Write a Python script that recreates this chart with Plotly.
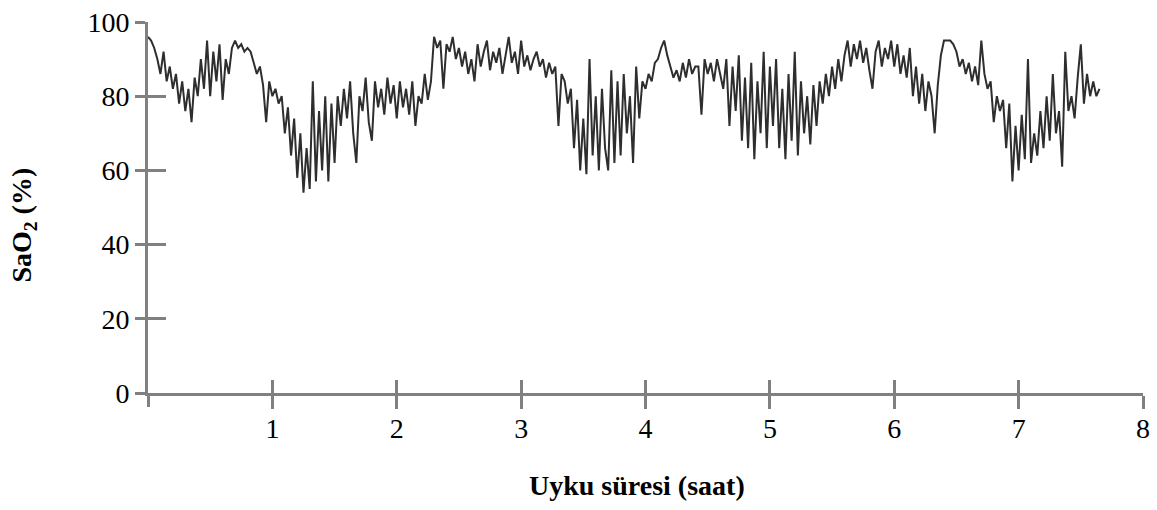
import plotly.graph_objects as go

# Sleep time (hours), sampled every 0.025 h
step = 0.025
sao2 = [
    # 0.00 - 0.475
    96, 95, 93, 90, 86, 92, 84, 88, 82, 86, 78, 84, 76, 82, 73, 85, 80, 90, 82, 95,
    # 0.50 - 0.975
    80, 92, 84, 94, 79, 90, 86, 93, 95, 93, 94, 92, 93, 92, 89, 86, 88, 83, 73, 84,
    # 1.00 - 1.475
    80, 82, 78, 80, 70, 77, 64, 74, 58, 70, 54, 66, 55, 84, 57, 76, 60, 80, 57, 78,
    # 1.50 - 1.975
    62, 80, 72, 82, 74, 84, 70, 62, 80, 76, 85, 73, 68, 84, 77, 82, 75, 85, 78, 83,
    # 2.00 - 2.475
    74, 84, 77, 82, 75, 84, 72, 80, 78, 86, 79, 84, 96, 93, 95, 82, 94, 92, 96, 90,
    # 2.50 - 2.975
    93, 88, 92, 86, 90, 84, 94, 88, 92, 95, 87, 92, 89, 93, 86, 91, 96, 89, 92, 86,
    # 3.00 - 3.475
    95, 88, 91, 87, 90, 92, 88, 90, 85, 89, 86, 88, 72, 86, 84, 78, 82, 66, 79, 60,
    # 3.50 - 3.975
    74, 59, 90, 64, 80, 60, 82, 66, 60, 87, 62, 84, 64, 86, 70, 80, 62, 88, 74, 84,
    # 4.00 - 4.475
    82, 86, 84, 89, 90, 93, 95, 91, 88, 85, 87, 84, 89, 85, 90, 86, 88, 88, 75, 90,
    # 4.50 - 4.975
    86, 89, 84, 90, 86, 82, 90, 72, 88, 76, 91, 68, 85, 66, 89, 63, 84, 70, 92, 66,
    # 5.00 - 5.475
    88, 72, 90, 66, 82, 63, 86, 68, 92, 64, 84, 70, 80, 67, 83, 72, 84, 78, 86, 80,
    # 5.50 - 5.975
    88, 82, 90, 84, 91, 95, 88, 94, 90, 95, 89, 93, 87, 82, 92, 95, 88, 93, 90, 95,
    # 6.00 - 6.475
    88, 94, 86, 91, 85, 93, 80, 88, 78, 86, 76, 84, 80, 70, 83, 91, 95, 95, 95, 94,
    # 6.50 - 6.975
    92, 88, 90, 86, 89, 84, 88, 83, 95, 86, 82, 84, 73, 80, 76, 79, 66, 78, 57, 72,
    # 7.00 - 7.475
    60, 75, 63, 90, 62, 70, 64, 76, 66, 80, 68, 86, 70, 76, 61, 92, 76, 80, 74, 85,
    # 7.50 - 7.65
    94, 78, 86, 80, 84, 80, 82,
]
hours = [round(i * step, 3) for i in range(len(sao2))]

x_label_ticks = [1, 2, 3, 4, 5, 6, 7, 8]
x_all_ticks = [0, 1, 2, 3, 4, 5, 6, 7, 8]
x_origin_tick = [0]
y_ticks = [0, 20, 40, 60, 80, 100]

FONT = "Liberation Serif, Times New Roman, serif"
AXIS_COLOR = "#808080"

fig = go.Figure()
fig.add_trace(go.Scatter(
    x=hours, y=sao2, mode="lines",
    line=dict(color="#2e2e2e", width=2),
    showlegend=False, hoverinfo="skip",
))
# empty traces to activate the overlay axes (other tick halves)
fig.add_trace(go.Scatter(x=[None], y=[None], xaxis="x2", yaxis="y2",
                         showlegend=False, hoverinfo="skip"))
fig.add_trace(go.Scatter(x=[None], y=[None], xaxis="x3", yaxis="y2",
                         showlegend=False, hoverinfo="skip"))

axis_common = dict(showgrid=False, zeroline=False)

fig.update_layout(
    width=1157, height=510,
    margin=dict(l=148, r=7, t=16, b=117),
    paper_bgcolor="white", plot_bgcolor="white",
    font=dict(family=FONT, size=28, color="black"),
    xaxis=dict(range=[0, 8], tickvals=x_label_ticks,
               ticks="outside", ticklen=13, tickwidth=3, tickcolor=AXIS_COLOR,
               showline=True, linecolor=AXIS_COLOR, linewidth=3,
               ticklabelstandoff=-5,
               tickfont=dict(family=FONT, size=28), **axis_common),
    yaxis=dict(range=[0, 100], tickvals=y_ticks,
               ticks="outside", ticklen=10, tickwidth=3, tickcolor=AXIS_COLOR,
               showline=True, linecolor=AXIS_COLOR, linewidth=3,
               tickfont=dict(family=FONT, size=28), **axis_common),
    xaxis2=dict(range=[0, 8], tickvals=x_all_ticks, overlaying="x", anchor="y2",
                ticks="inside", ticklen=13, tickwidth=3, tickcolor=AXIS_COLOR,
                showticklabels=False, showline=False, side="bottom", **axis_common),
    xaxis3=dict(range=[0, 8], tickvals=x_origin_tick, overlaying="x", anchor="y2",
                ticks="outside", ticklen=13, tickwidth=3, tickcolor=AXIS_COLOR,
                showticklabels=False, showline=False, side="bottom", **axis_common),
    yaxis2=dict(range=[0, 100], tickvals=y_ticks, overlaying="y", anchor="x2",
                ticks="inside", ticklen=18, tickwidth=3, tickcolor=AXIS_COLOR,
                showticklabels=False, showline=False, side="left", **axis_common),
    annotations=[
        dict(text="<b>Uyku süresi (saat)</b>", xref="paper", yref="paper",
             x=0.491, y=-0.249, xanchor="center", yanchor="middle",
             showarrow=False, font=dict(family=FONT, size=28, color="black")),
        dict(text="<b>SaO<sub>2</sub> (%)</b>", xref="paper", yref="paper",
             x=-0.1248, y=0.4536, xanchor="center", yanchor="middle",
             textangle=-90, showarrow=False,
             font=dict(family=FONT, size=28, color="black")),
    ],
)

fig.write_html("out.html")
